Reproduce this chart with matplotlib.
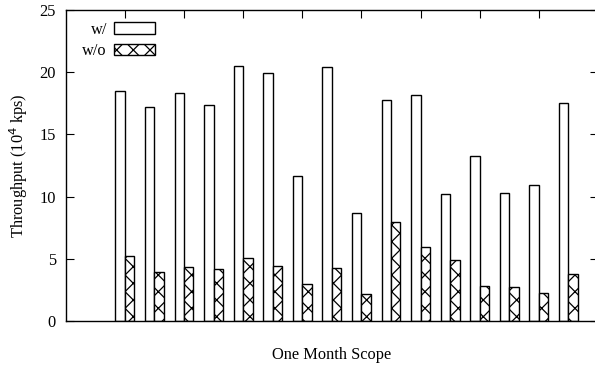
import matplotlib
matplotlib.use("Agg")
import matplotlib.pyplot as plt
import numpy as np

# Data
groups = list(range(16))
with_vals = [18.5, 17.2, 18.3, 17.35, 20.5, 19.95, 11.65, 20.4, 8.7, 17.75,
             18.2, 10.2, 13.3, 10.25, 10.9, 17.55]
without_vals = [5.2, 3.9, 4.35, 4.2, 5.1, 4.4, 3.0, 4.3, 2.15, 7.95,
                5.95, 4.9, 2.85, 2.75, 2.25, 3.75]
series_labels = ["w/", "w/o"]
y_ticks = [0, 5, 10, 15, 20, 25]

plt.rcParams['font.family'] = ['Liberation Serif', 'DejaVu Serif']
plt.rcParams['hatch.linewidth'] = 0.9
fs = 11.8

fig = plt.figure(figsize=(5.95, 3.66), dpi=100)
ax = fig.add_axes([65.7 / 595, (366 - 321) / 366, (598 - 65.7) / 595, (321 - 10) / 366])

x = np.array(groups, dtype=float)
bw = 0.32
ax.bar(x - bw / 2, with_vals, width=bw, facecolor='white', edgecolor='black',
       linewidth=1.0, label=series_labels[0])
ax.bar(x + bw / 2, without_vals, width=bw, facecolor='white', edgecolor='black',
       linewidth=1.0, hatch='xx', label=series_labels[1])

ax.set_xlim(-2, 16)
ax.set_ylim(0, 25)
ax.set_yticks(y_ticks)
ax.set_xticks(np.arange(0, 17, 2))
ax.tick_params(axis='x', which='both', bottom=False, top=True, labelbottom=False,
               labeltop=False, direction='in', length=6, width=0.8)
ax.tick_params(axis='y', which='both', left=True, right=True, direction='in',
               length=6, width=0.8, labelsize=fs, pad=7)
for s in ax.spines.values():
    s.set_linewidth(1.0)

ax.set_ylabel("Throughput (10$^4$ kps)", fontsize=fs, labelpad=7)
ax.set_xlabel("One Month Scope", fontsize=fs, labelpad=19)

leg = ax.legend(loc='upper right', bbox_to_anchor=(0.168, 0.962), frameon=False,
                markerfirst=False, fontsize=fs, handlelength=2.5,
                handleheight=0.67, labelspacing=0.34, handletextpad=0.43,
                borderaxespad=0.0, borderpad=0.0)
for t in leg.get_texts():
    t.set_ha('right')

fig.savefig("out.png", dpi=100)
